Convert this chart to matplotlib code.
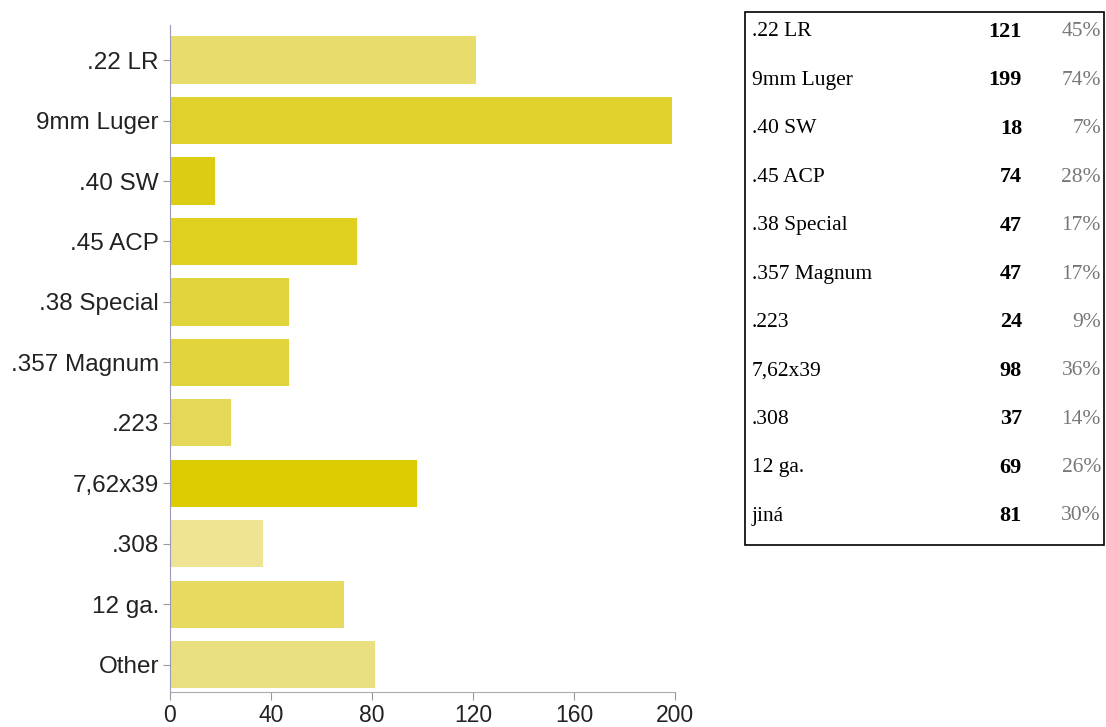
import matplotlib.pyplot as plt
from matplotlib.patches import Rectangle

categories = ['.22 LR', '9mm Luger', '.40 SW', '.45 ACP', '.38 Special', '.357 Magnum',
              '.223', '7,62x39', '.308', '12 ga.', 'Other']
values = [121, 199, 18, 74, 47, 47, 24, 98, 37, 69, 81]
bar_colors = ['#e8dc6c', '#e0d22c', '#dccc14', '#e0d020', '#e2d53c', '#e2d53c',
              '#e4d858', '#dccb00', '#eee494', '#e6da60', '#eae080']

table_labels = ['.22 LR', '9mm Luger', '.40 SW', '.45 ACP', '.38 Special', '.357 Magnum',
                '.223', '7,62x39', '.308', '12 ga.', 'jiná']
table_counts = [121, 199, 18, 74, 47, 47, 24, 98, 37, 69, 81]
table_pcts = ['45%', '74%', '7%', '28%', '17%', '17%', '9%', '36%', '14%', '26%', '30%']

W, H = 1106, 727
fig = plt.figure(figsize=(W / 100, H / 100), dpi=100)
ax = fig.add_axes([170 / W, 1 - 692 / H, 505 / W, 667 / H])

y = range(len(categories))
ax.barh(y, values, height=0.78, color=bar_colors, edgecolor='none')
ax.set_ylim(10.45, -0.58)
ax.set_xlim(0, 200)
ax.set_xticks([0, 40, 80, 120, 160, 200])
ax.set_yticks(list(y))
ax.set_yticklabels(categories, fontsize=17.5, family='Liberation Sans', color='#222222')
ax.tick_params(axis='x', labelsize=16.5, colors='#999999', labelcolor='#222222', length=6, pad=3)
ax.tick_params(axis='y', colors='#999999', labelcolor='#222222', length=5, pad=3)
for lab in ax.get_xticklabels():
    lab.set_family('Liberation Sans')
for s in ['top', 'right']:
    ax.spines[s].set_visible(False)
ax.spines['left'].set_color('#9a9ab8')
ax.spines['bottom'].set_color('#aaaaaa')

# table on the right
fig.add_artist(Rectangle((745 / W, 1 - 545 / H), 359 / W, 533 / H, transform=fig.transFigure,
                         fill=False, edgecolor='black', linewidth=1.2))
for i, (lab, n, p) in enumerate(zip(table_labels, table_counts, table_pcts)):
    yy = 1 - (32 + i * 48.4) / H
    fig.text(752 / W, yy, lab, fontsize=15.5, family='Liberation Serif', va='center', ha='left')
    fig.text(1022 / W, yy, str(n), fontsize=16, family='Liberation Serif', fontweight='bold',
             va='center', ha='right')
    fig.text(1101 / W, yy, p, fontsize=15.5, family='Liberation Serif', color='#777777',
             va='center', ha='right')

fig.savefig('out.png', dpi=100)
